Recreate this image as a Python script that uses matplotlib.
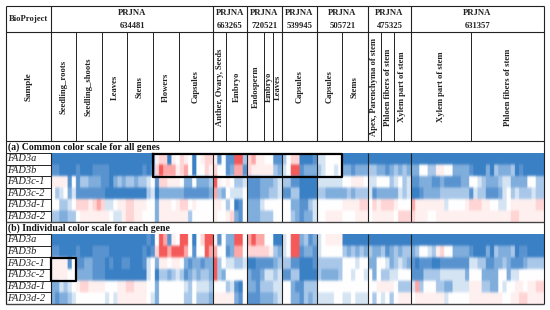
import matplotlib
matplotlib.use("Agg")
import matplotlib.pyplot as plt
from matplotlib.colors import LinearSegmentedColormap
import numpy as np

plt.rcParams['font.family'] = ['Liberation Serif', 'DejaVu Serif']

genes = ["FAD3a", "FAD3b", "FAD3c-1", "FAD3c-2", "FAD3d-1", "FAD3d-2"]

# bioproject header, columns in the heatmap per project
projects = ["634481", "663265", "720521", "539945", "505721", "475325", "631357"]
project_cols = [39, 8, 8, 8, 12, 10, 32]
project_edges = [51, 213, 247, 282, 317, 368, 411, 544]

samples = ["Seedling_roots", "Seedling_shoots", "Leaves", "Stems", "Flowers", "Capsules",
           "Anther, Ovary, Seeds", "Embryo",
           "Endosperm", "Embryo", "Leaves",
           "Capsules",
           "Capsules", "Stems",
           "Apex, Parenchyma of stem", "Phloen fibers of stem", "Xylem part of stem",
           "Xylem part of stem", "Phloen fibers of stem"]
sample_edges = [51, 76, 102, 127, 153, 179, 213, 226, 247, 264, 273, 282, 317, 342, 368, 381, 394, 411, 471, 544]

# colour level per cell: 0 strong blue, 5 white, 9 strong red. one block per project
common_fad3a = "000000000000000000000000067706576505677 61511993 78665511 35770001 445555000000 0000000000 00000000000000000000000000000000"
common_fad3b = "110000100011110000000010179888678505576 75512881 76666632 45991222 345545221222 3322123232 22553366552222100020322230100000"
common_fad3c1 = "666615133222110232332334517766652252223 96565334 11122234 33110000 444444556665 4455534534 11222112111122554322234422225533"
common_fad3c2 = "534524111111100000000003402222221111112 83254445 11122334 11330000 332222232333 4122222434 00122223333333143311124534333433"
common_fad3d1 = "553345777678744566776665526665677565555 66535015 22245555 55221134 555555666677 5767776555 86666666455556777665544566666677"
common_fad3d2 = "332233566666665446776655526666666355555 65567215 22233355 55321224 556666555666 5666665777 76665566666666666666666677666666"

indiv_fad3a = "000000000000000000000001059816599505799 61522995 89885500 45992312 456666000000 0000000000 00000000000000000000000000000000"
indiv_fad3b = "110000100011110000000010179989998515598 85512885 77777632 45991221 455555323232 3223123233 23554367552222100020322230110000"
indiv_fad3c1 = "666615112211101001100014526656652122122 93544334 00111123 33110001 333333555455 2255423432 10111001111111443311223211123333"
indiv_fad3c2 = "666655222211100000000004503323431232332 93255555 21124434 11330000 322223554554 5253344555 11133334444442555222255244555555"
indiv_fad3d1 = "224345677666655566776665525555554354443 55534105 22133344 55211333 555555555555 5566665333 48355533224444666332254556656677"
indiv_fad3d2 = "212234555555545466666665425555553353332 66666215 11122234 55221323 444455445444 5354535666 56666666455555666666665566776666"

common_rows = [common_fad3a, common_fad3b, common_fad3c1, common_fad3c2, common_fad3d1, common_fad3d2]
indiv_rows = [indiv_fad3a, indiv_fad3b, indiv_fad3c1, indiv_fad3c2, indiv_fad3d1, indiv_fad3d2]


def to_matrix(rows):
    return np.array([[int(c) for c in r.replace(" ", "")] for r in rows])


cmap = LinearSegmentedColormap.from_list("fad", ["#3a80c5", "#5a94d0", "#80aedd", "#a9c8e9", "#d6e5f4",
                                                 "#ffffff", "#fff0f0", "#ffd6d6", "#ffa8a8", "#f55a5a"])

fig = plt.figure(figsize=(5.5, 3.1), dpi=100)
ax = fig.add_axes([0, 0, 1, 1])
ax.set_xlim(0, 550)
ax.set_ylim(310, 0)
ax.axis("off")

line = "#222222"


def heat(rows, top, bottom):
    y_edges = np.linspace(top, bottom, 7)
    m = to_matrix(rows)
    # one image per project, repeated up so the gaussian only softens the cell edges
    start = 0
    for i, n in enumerate(project_cols):
        block = np.repeat(np.repeat(m[:, start:start + n], 4, axis=0), 4, axis=1)
        ax.imshow(block, cmap=cmap, vmin=0, vmax=9, interpolation="gaussian", aspect="auto",
                  extent=(project_edges[i], project_edges[i + 1], bottom, top))
        start += n
    ax.set_xlim(0, 550)
    ax.set_ylim(310, 0)
    for i, g in enumerate(genes):
        ax.text(7.5, (y_edges[i] + y_edges[i + 1]) / 2, g, style="italic", fontsize=7.5, va="center", color="#222222")
    ax.hlines(y_edges, 6, 51, color=line, lw=0.7)
    ax.vlines([6, 51], top, bottom, color=line, lw=0.8)
    ax.vlines(project_edges[1:-1], top, bottom, color=line, lw=0.8)
    ax.hlines(bottom, 6, 544, color="#444444", lw=1.0)


# header table
ax.hlines([6, 32, 141], 6, 544, color=line, lw=0.8)
ax.vlines([6, 544], 6, 304, color=line, lw=0.8)
ax.vlines([51] + project_edges[1:-1], 6, 141, color=line, lw=0.8)
ax.vlines(sample_edges[1:-1], 32, 141, color=line, lw=0.7)
ax.text(28.5, 19, "BioProject", weight="bold", fontsize=6.2, ha="center", va="center", color="#222222")
ax.text(28.5, 87, "Sample", weight="bold", fontsize=6.6, rotation=90, ha="center", va="center", color="#222222")
for i, p in enumerate(projects):
    xc = (project_edges[i] + project_edges[i + 1]) / 2
    ax.text(xc, 13, "PRJNA", weight="bold", fontsize=6.2, ha="center", va="center", color="#222222")
    ax.text(xc, 25.5, p, weight="bold", fontsize=6.2, ha="center", va="center", color="#222222")
for i, s in enumerate(samples):
    xc = (sample_edges[i] + sample_edges[i + 1]) / 2
    ax.text(xc, 87, s, weight="bold", fontsize=6.2, rotation=90, ha="center", va="center", color="#222222")

ax.text(7.5, 147, "(a) Common color scale for all genes", weight="bold", fontsize=7.0, va="center", color="#111111")
ax.text(7.5, 228.5, "(b) Individual color scale for each gene", weight="bold", fontsize=7.0, va="center", color="#111111")

heat(common_rows, 153, 222)
heat(indiv_rows, 234, 304)

# highlighted boxes
ax.plot([153, 342, 342, 153, 153], [153.5, 153.5, 176.5, 176.5, 153.5], color="black", lw=1.6)
ax.plot([51, 76, 76, 51, 51], [257.5, 257.5, 280.5, 280.5, 257.5], color="black", lw=1.6)

fig.savefig("out.png", dpi=100)
